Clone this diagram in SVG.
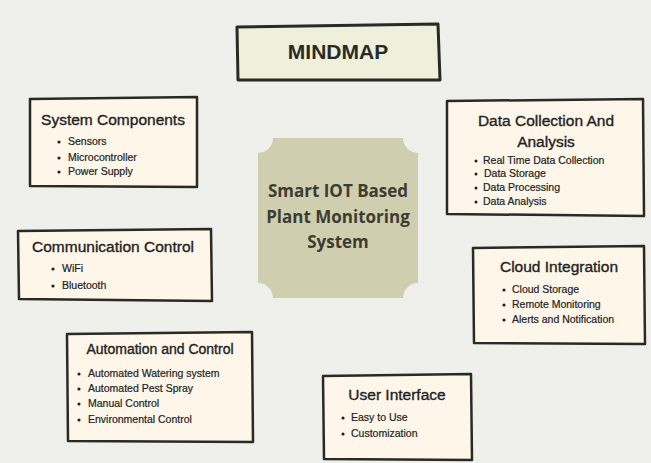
<svg xmlns="http://www.w3.org/2000/svg" width="651" height="463" viewBox="0 0 651 463">
<style>
.box{fill:#fdf6e9;stroke:#2a2a24;stroke-width:2.5;stroke-linejoin:round}
.title{font-family:"Liberation Sans",Arial,sans-serif;font-size:15.5px;fill:#222;stroke:#222;stroke-width:0.35}
.item{font-family:"Liberation Sans",Arial,sans-serif;font-size:10.5px;fill:#222;stroke:#222;stroke-width:0.2}
.dot{fill:#222}
.center{font-family:"Open Sans","Liberation Sans",sans-serif;font-size:17px;font-weight:bold;fill:#3c3c31}
</style>
<rect width="651" height="463" fill="#efefeb"/>
<g id="connectors"></g>
<g id="mindmap">
<path d="M237,27 L438,24 L440,80 L238,80 Z" fill="#eef0db" stroke="#2a2a24" stroke-width="3" stroke-linejoin="round"/>
<text x="338" y="59" text-anchor="middle" font-family="Liberation Sans,Arial,sans-serif" font-size="21" font-weight="bold" fill="#2a2a24">MINDMAP</text>
</g>
<g id="center">
<path d="M273,138 L403,138 A15,15 0 0 0 418,153 L418,283 A15,15 0 0 0 403,298 L273,298 A15,15 0 0 0 258,283 L258,153 A15,15 0 0 0 273,138 Z" fill="#cfcfb0"/>
<text class="center" x="338" y="197" text-anchor="middle">Smart IOT Based</text>
<text class="center" x="338" y="223" text-anchor="middle">Plant Monitoring</text>
<text class="center" x="338" y="248" text-anchor="middle">System</text>
</g>
<g id="system-components">
<path class="box" d="M30,99 L197,97 L197,187 L30,186 Z"/>
<text class="title" x="113" y="125" text-anchor="middle">System Components</text>
<circle class="dot" cx="59" cy="142" r="1.6"/><text class="item" x="68" y="145">Sensors</text>
<circle class="dot" cx="59" cy="158" r="1.6"/><text class="item" x="68" y="161">Microcontroller</text>
<circle class="dot" cx="59" cy="172" r="1.6"/><text class="item" x="68" y="175">Power Supply</text>
</g>
<g id="data-collection">
<path class="box" d="M447,101 L643,99 L644,216 L447,214 Z"/>
<text class="title" x="546" y="126" text-anchor="middle">Data Collection And</text>
<text class="title" x="546" y="147" text-anchor="middle">Analysis</text>
<circle class="dot" cx="476" cy="161" r="1.5"/><text class="item" x="483" y="164">Real Time Data Collection</text>
<circle class="dot" cx="476" cy="174" r="1.5"/><text class="item" x="484" y="177">Data Storage</text>
<circle class="dot" cx="476" cy="188" r="1.5"/><text class="item" x="483" y="191">Data Processing</text>
<circle class="dot" cx="476" cy="202" r="1.5"/><text class="item" x="483" y="205">Data Analysis</text>
</g>
<g id="communication-control">
<path class="box" d="M18,231 L211,229 L212,301 L19,299 Z"/>
<text class="title" x="113" y="252" text-anchor="middle">Communication Control</text>
<circle class="dot" cx="53" cy="269" r="1.6"/><text class="item" x="62" y="272">WiFi</text>
<circle class="dot" cx="53" cy="286" r="1.6"/><text class="item" x="62" y="289">Bluetooth</text>
</g>
<g id="cloud-integration">
<path class="box" d="M473,248 L644,246 L645,344 L474,343 Z"/>
<text class="title" x="559" y="272" text-anchor="middle">Cloud Integration</text>
<circle class="dot" cx="504" cy="290" r="1.6"/><text class="item" x="512" y="293">Cloud Storage</text>
<circle class="dot" cx="504" cy="305" r="1.6"/><text class="item" x="512" y="308">Remote Monitoring</text>
<circle class="dot" cx="504" cy="320" r="1.6"/><text class="item" x="512" y="323">Alerts and Notification</text>
</g>
<g id="automation-control">
<path class="box" d="M67,334 L252,332 L253,442 L68,441 Z"/>
<text class="title" x="160" y="354" text-anchor="middle" style="font-size:14px">Automation and Control</text>
<circle class="dot" cx="79" cy="374" r="1.6"/><text class="item" x="88" y="377">Automated Watering system</text>
<circle class="dot" cx="79" cy="389" r="1.6"/><text class="item" x="88" y="392">Automated Pest Spray</text>
<circle class="dot" cx="79" cy="404" r="1.6"/><text class="item" x="88" y="407">Manual Control</text>
<circle class="dot" cx="79" cy="420" r="1.6"/><text class="item" x="88" y="423">Environmental Control</text>
</g>
<g id="user-interface">
<path class="box" d="M323,376 L471,374 L472,460 L324,459 Z"/>
<text class="title" x="397" y="400" text-anchor="middle">User Interface</text>
<circle class="dot" cx="343" cy="418" r="1.6"/><text class="item" x="351" y="421">Easy to Use</text>
<circle class="dot" cx="343" cy="434" r="1.6"/><text class="item" x="351" y="437">Customization</text>
</g>
</svg>
